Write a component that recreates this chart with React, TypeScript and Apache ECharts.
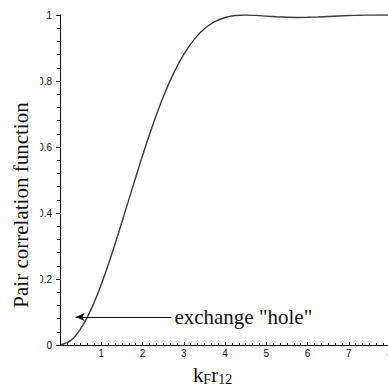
import React, { useEffect, useRef } from "react";
import * as echarts from "echarts";

// kF*r12 sample positions and pair correlation values
const kr = [0, 0.25, 0.5, 0.75, 1, 1.25, 1.5, 1.75, 2, 2.25, 2.5, 2.75, 3, 3.25, 3.5, 3.75, 4, 4.25, 4.5, 4.75, 5, 5.25, 5.5, 5.75, 6, 6.25, 6.5, 6.75, 7, 7.25, 7.5, 7.75, 8];
const g = [0, 0.0124, 0.0489, 0.1072, 0.1837, 0.2737, 0.3722, 0.4738, 0.5735, 0.6669, 0.7505, 0.8222, 0.8805, 0.9255, 0.9581, 0.9797, 0.9924, 0.9985, 1.0, 0.9989, 0.9967, 0.9946, 0.9931, 0.9926, 0.993, 0.994, 0.9955, 0.997, 0.9984, 0.9993, 0.9999, 1.0, 0.9998];

// annotation arrow: from (x, y) to (x, y) in data units
const arrowStart = [2.7, 0.085];
const arrowEnd = [0.38, 0.085];
const annotationText = 'exchange "hole"';
const yTitle = "Pair correlation function";

const SERIF = '"Liberation Serif", "Times New Roman", serif';
const SANS = '"Liberation Sans", Arial, sans-serif';

export default function App() {
  const ref = useRef<HTMLDivElement>(null);
  useEffect(() => {
    if (!ref.current) return;
    const chart = echarts.init(ref.current, null, { renderer: "svg" });
    const data = kr.map((x, i) => [x, g[i]]);
    chart.setOption({
      animation: false,
      backgroundColor: "#fff",
      grid: { left: 60, top: 15, width: 330, height: 330, containLabel: false, outerBoundsMode: "none" },
      xAxis: {
        type: "value",
        min: 0,
        max: 8,
        interval: 1,
        splitLine: { show: false },
        axisLine: { lineStyle: { color: "#111", width: 1 } },
        axisTick: { show: true, inside: true, length: 3, lineStyle: { color: "#111" } },
        minorTick: { show: true, splitNumber: 6, length: 2, lineStyle: { color: "#111" } },
        axisLabel: { showMinLabel: false, fontSize: 10, fontFamily: SANS, color: "#111", margin: 3 },
        name: "{b|k}{s|F}{b|r}{s|12}",
        nameLocation: "middle",
        nameGap: 12,
        nameTextStyle: {
          padding: [0, 25, 0, 0],
          rich: {
            b: { fontSize: 21, fontFamily: SERIF, color: "#111", lineHeight: 22 },
            s: { fontSize: 14, fontFamily: SERIF, color: "#111", lineHeight: 14, padding: [10, 0, 0, 0] },
          },
        },
      },
      yAxis: {
        type: "value",
        min: 0,
        max: 1,
        interval: 0.2,
        splitLine: { show: false },
        axisLine: { show: true, lineStyle: { color: "#111", width: 1 } },
        axisTick: { show: true, length: 4, lineStyle: { color: "#111" } },
        minorTick: { show: true, splitNumber: 5, length: 3, lineStyle: { color: "#111" } },
        axisLabel: { fontSize: 10, fontFamily: SANS, color: "#111", margin: 8 },
      },
      graphic: [
        { type: "rect", x: 0, y: 50, z: 100, shape: { x: 0, y: 0, width: 40.3, height: 270 }, style: { fill: "#fff" } },
        {
          type: "text",
          x: 21,
          y: 205,
          rotation: Math.PI / 2,
          z: 101,
          style: { text: yTitle, font: `21px ${SERIF}`, fill: "#111", align: "center", verticalAlign: "middle" },
        },
      ],
      series: [
        {
          type: "line",
          data,
          smooth: 0.3,
          showSymbol: false,
          lineStyle: { color: "#3a3a3a", width: 1.4 },
          markLine: {
            silent: true,
            symbol: ["none", "arrow"],
            symbolSize: [6, 9],
            lineStyle: { color: "#111", width: 1, type: "solid" },
            label: {
              show: true,
              position: "start",
              distance: 3,
              formatter: annotationText,
              fontSize: 21,
              fontFamily: SERIF,
              color: "#111",
            },
            data: [[{ coord: arrowStart }, { coord: arrowEnd }]],
          },
        },
      ],
    });
    return () => chart.dispose();
  }, []);
  return <div ref={ref} style={{ width: 388, height: 386, position: "absolute", left: 0, top: 0 }} />;
}
